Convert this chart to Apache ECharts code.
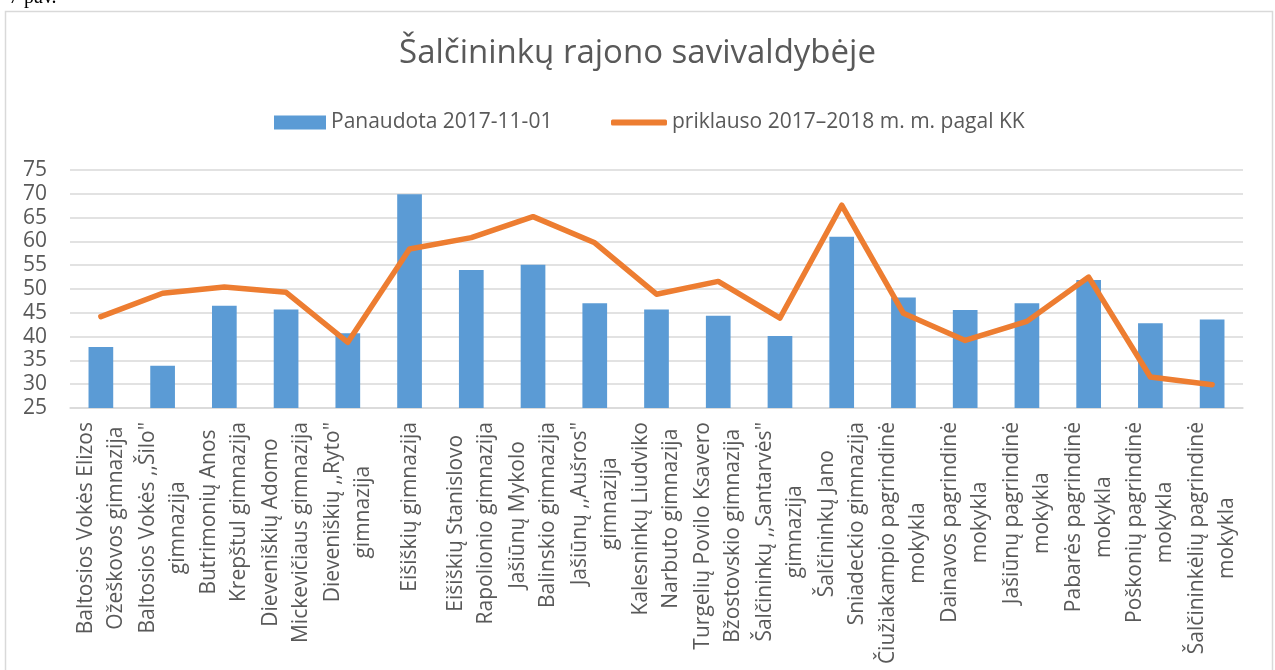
<!DOCTYPE html>
<html>
<head>
<meta charset="utf-8">
<script src="https://cdn.jsdelivr.net/npm/echarts@6/dist/echarts.min.js"></script>
<style>
  html, body { margin: 0; padding: 0; background: #ffffff; }
  #chart { width: 1275px; height: 670px; }
</style>
</head>
<body>
<div id="chart"></div>
<script>
// mokyklos (kategorijos)
const schools = [
  "Baltosios Vokės Elizos\nOžeškovos gimnazija",
  "Baltosios Vokės ,,Šilo\"\ngimnazija",
  "Butrimonių Anos\nKrepštul gimnazija",
  "Dieveniškių Adomo\nMickevičiaus gimnazija",
  "Dieveniškių ,,Ryto\"\ngimnazija",
  "Eišiškių gimnazija",
  "Eišiškių Stanislovo\nRapolionio gimnazija",
  "Jašiūnų Mykolo\nBalinskio gimnazija",
  "Jašiūnų ,,Aušros\"\ngimnazija",
  "Kalesninkų Liudviko\nNarbuto gimnazija",
  "Turgelių Povilo Ksavero\nBžostovskio gimnazija",
  "Šalčininkų ,,Santarvės\"\ngimnazija",
  "Šalčininkų Jano\nSniadeckio gimnazija",
  "Čiužiakampio pagrindinė\nmokykla",
  "Dainavos pagrindinė\nmokykla",
  "Jašiūnų pagrindinė\nmokykla",
  "Pabarės pagrindinė\nmokykla",
  "Poškonių pagrindinė\nmokykla",
  "Šalčininkėlių pagrindinė\nmokykla"
];
const usedName = "Panaudota 2017-11-01";
const dueName = "priklauso 2017–2018 m. m. pagal KK";
const used = [37.8, 33.9, 46.5, 45.7, 40.7, 69.9, 54.0, 55.1, 47.0, 45.7, 44.4, 40.1, 61.0, 48.2, 45.6, 47.0, 51.9, 42.8, 43.6];
const due = [44.2, 49.1, 50.4, 49.3, 38.8, 58.4, 60.8, 65.2, 59.7, 48.9, 51.6, 43.9, 67.6, 44.9, 39.2, 43.2, 52.5, 31.5, 29.9];
const yMin = 25;
const yMax = 75;
const yStep = 5;

const font = "'Open Sans', 'Noto Sans', sans-serif";
const grey = "#595959";
const gridGrey = "#d9d9d9";
const fs = 21;

let myChart = echarts.init(document.getElementById("chart"));
let option = {
  backgroundColor: "#ffffff",
  animation: false,
  textStyle: { fontFamily: font },
  title: {
    text: "Šalčininkų rajono savivaldybėje",
    left: "center",
    top: 32,
    textStyle: { color: grey, fontSize: 33, fontWeight: "normal", fontFamily: font }
  },
  graphic: [
    {
      type: "rect",
      shape: { x: 5.5, y: 11.5, width: 1267, height: 680 },
      style: { fill: "none", stroke: gridGrey, lineWidth: 1.5 },
      silent: true
    },
    {
      type: "text",
      left: 9,
      top: -12,
      style: { text: "7 pav.", font: "20px 'Liberation Serif', serif", fill: "#000000" },
      silent: true
    }
  ],
  legend: [
    {
      data: [{ name: usedName, icon: "rect" }],
      left: 269,
      top: 107,
      itemWidth: 52,
      itemHeight: 14,
      textStyle: { color: grey, fontSize: fs, fontFamily: font }
    },
    {
      data: [{ name: dueName, icon: "roundRect" }],
      left: 606,
      top: 107,
      itemWidth: 56,
      itemHeight: 6,
      textStyle: { color: grey, fontSize: fs, fontFamily: font }
    }
  ],
  grid: {
    left: 70,
    right: 32,
    top: 170,
    bottom: 262,
    containLabel: false
  },
  xAxis: {
    type: "category",
    data: schools,
    axisTick: { show: false },
    axisLine: { lineStyle: { color: gridGrey, width: 1.5 } },
    axisLabel: {
      interval: 0,
      rotate: 90,
      margin: 14,
      color: grey,
      fontSize: fs,
      lineHeight: 30,
      formatter: function (v) {
        return v.split("\n").map(s => "{c|" + s + "}").join("\n");
      },
      rich: {
        c: { align: "center", fontSize: fs, lineHeight: 30, color: grey, fontFamily: font }
      }
    }
  },
  yAxis: {
    type: "value",
    min: yMin,
    max: yMax,
    interval: yStep,
    axisLine: { show: false },
    axisTick: { show: false },
    axisLabel: { color: grey, fontSize: fs, margin: 23, fontFamily: font },
    splitLine: { lineStyle: { color: gridGrey, width: 1.5 } }
  },
  series: [
    {
      name: usedName,
      type: "bar",
      data: used,
      barWidth: "40%",
      itemStyle: { color: "#5B9BD5" }
    },
    {
      name: dueName,
      type: "line",
      data: due,
      symbol: "none",
      lineStyle: { color: "#ED7D31", width: 5.5, cap: "round", join: "round" },
      itemStyle: { color: "#ED7D31" }
    }
  ]
};
myChart.setOption(option, true);
window.addEventListener("resize", () => {
  myChart.resize();
});
</script>
</body>
</html>
